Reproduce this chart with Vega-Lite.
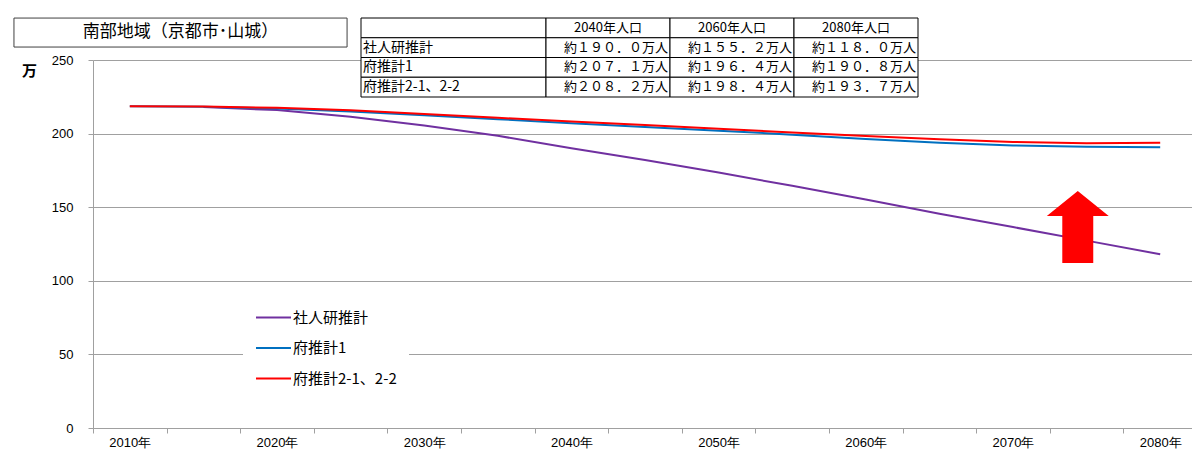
{
  "$schema": "https://vega.github.io/schema/vega-lite/v6.json",
  "width": 1099,
  "height": 368,
  "autosize": {"type": "none"},
  "padding": {"left": 93, "top": 60, "right": 0, "bottom": 22},
  "background": "white",
  "config": {"view": {"stroke": null}, "font": "Noto Sans CJK JP"},
  "datasets": {
    "pop": [
      {"series": "社人研推計", "year": 2015, "value": 218.0},
      {"series": "社人研推計", "year": 2020, "value": 216.0},
      {"series": "社人研推計", "year": 2025, "value": 211.5},
      {"series": "社人研推計", "year": 2030, "value": 205.5},
      {"series": "社人研推計", "year": 2035, "value": 198.5},
      {"series": "社人研推計", "year": 2040, "value": 190.0},
      {"series": "社人研推計", "year": 2045, "value": 182.0},
      {"series": "社人研推計", "year": 2050, "value": 173.5},
      {"series": "社人研推計", "year": 2055, "value": 164.5},
      {"series": "社人研推計", "year": 2060, "value": 155.2},
      {"series": "社人研推計", "year": 2065, "value": 145.5},
      {"series": "社人研推計", "year": 2070, "value": 136.5},
      {"series": "社人研推計", "year": 2075, "value": 127.3},
      {"series": "社人研推計", "year": 2080, "value": 118.0},
      {"series": "府推計1", "year": 2010, "value": 218.5},
      {"series": "府推計1", "year": 2015, "value": 218.3},
      {"series": "府推計1", "year": 2020, "value": 217.0},
      {"series": "府推計1", "year": 2025, "value": 215.0},
      {"series": "府推計1", "year": 2030, "value": 212.5},
      {"series": "府推計1", "year": 2035, "value": 209.8},
      {"series": "府推計1", "year": 2040, "value": 207.1},
      {"series": "府推計1", "year": 2045, "value": 204.5},
      {"series": "府推計1", "year": 2050, "value": 202.0},
      {"series": "府推計1", "year": 2055, "value": 199.3},
      {"series": "府推計1", "year": 2060, "value": 196.4},
      {"series": "府推計1", "year": 2065, "value": 193.8},
      {"series": "府推計1", "year": 2070, "value": 192.0},
      {"series": "府推計1", "year": 2075, "value": 191.0},
      {"series": "府推計1", "year": 2080, "value": 190.8},
      {"series": "府推計2-1、2-2", "year": 2010, "value": 218.5},
      {"series": "府推計2-1、2-2", "year": 2015, "value": 218.4},
      {"series": "府推計2-1、2-2", "year": 2020, "value": 217.5},
      {"series": "府推計2-1、2-2", "year": 2025, "value": 215.8},
      {"series": "府推計2-1、2-2", "year": 2030, "value": 213.3},
      {"series": "府推計2-1、2-2", "year": 2035, "value": 210.7},
      {"series": "府推計2-1、2-2", "year": 2040, "value": 208.2},
      {"series": "府推計2-1、2-2", "year": 2045, "value": 205.8},
      {"series": "府推計2-1、2-2", "year": 2050, "value": 203.3},
      {"series": "府推計2-1、2-2", "year": 2055, "value": 200.8},
      {"series": "府推計2-1、2-2", "year": 2060, "value": 198.4},
      {"series": "府推計2-1、2-2", "year": 2065, "value": 196.2},
      {"series": "府推計2-1、2-2", "year": 2070, "value": 194.3},
      {"series": "府推計2-1、2-2", "year": 2075, "value": 193.4},
      {"series": "府推計2-1、2-2", "year": 2080, "value": 193.7}
    ],
    "table": [
      {"row": "見出し", "col": "項目", "text": ""},
      {"row": "社人研推計", "col": "項目", "text": "社人研推計"},
      {"row": "府推計1", "col": "項目", "text": "府推計1"},
      {"row": "府推計2-1、2-2", "col": "項目", "text": "府推計2-1、2-2"},
      {"row": "見出し", "col": "2040年人口", "text": "2040年人口"},
      {"row": "見出し", "col": "2060年人口", "text": "2060年人口"},
      {"row": "見出し", "col": "2080年人口", "text": "2080年人口"},
      {"row": "社人研推計", "col": "2040年人口", "text": "約１９０．０万人"},
      {"row": "社人研推計", "col": "2060年人口", "text": "約１５５．２万人"},
      {"row": "社人研推計", "col": "2080年人口", "text": "約１１８．０万人"},
      {"row": "府推計1", "col": "2040年人口", "text": "約２０７．１万人"},
      {"row": "府推計1", "col": "2060年人口", "text": "約１９６．４万人"},
      {"row": "府推計1", "col": "2080年人口", "text": "約１９０．８万人"},
      {"row": "府推計2-1、2-2", "col": "2040年人口", "text": "約２０８．２万人"},
      {"row": "府推計2-1、2-2", "col": "2060年人口", "text": "約１９８．４万人"},
      {"row": "府推計2-1、2-2", "col": "2080年人口", "text": "約１９３．７万人"}
    ]
  },
  "layer": [
    {
      "layer": [
        {
          "data": {"name": "pop"},
          "mark": {"type": "line", "strokeWidth": 2},
          "encoding": {
            "x": {
              "field": "year", "type": "quantitative",
              "scale": {"domain": [2007.5, 2082.16], "nice": false, "zero": false},
              "axis": {
                "title": null,
                "values": [2007.5, 2012.5, 2017.5, 2022.5, 2027.5, 2032.5, 2037.5, 2042.5, 2047.5, 2052.5, 2057.5, 2062.5, 2067.5, 2072.5, 2077.5],
                "labelExpr": "(datum.value + 2.5) % 10 === 0 ? (datum.value + 2.5) + '年' : ''",
                "labelOffset": 36.8,
                "labelOverlap": false,
                "labelFlush": false,
                "labelFont": "Liberation Sans",
                "labelFontSize": 13,
                "labelColor": "#000000",
                "labelPadding": 3,
                "tickSize": 5,
                "tickColor": "#a0a0a0",
                "domainColor": "#a0a0a0",
                "grid": false
              }
            },
            "y": {
              "field": "value", "type": "quantitative",
              "scale": {"domain": [0, 250], "nice": false},
              "axis": {
                "title": "万",
                "titleAngle": 0,
                "titleX": -64,
                "titleY": 10,
                "titleAlign": "center",
                "titleBaseline": "middle",
                "titleFont": "Noto Sans CJK JP",
                "titleFontSize": 15,
                "titleFontWeight": "bold",
                "titleColor": "#000000",
                "values": [0, 50, 100, 150, 200, 250],
                "grid": true,
                "gridColor": "#a0a0a0",
                "domainColor": "#a0a0a0",
                "tickColor": "#a0a0a0",
                "tickSize": 5,
                "labelPadding": 15,
                "labelFont": "Liberation Sans",
                "labelFontSize": 13,
                "labelColor": "#000000"
              }
            },
            "color": {
              "field": "series", "type": "nominal",
              "scale": {"domain": ["社人研推計", "府推計1", "府推計2-1、2-2"], "range": ["#7030a0", "#0070c0", "#ff0000"]},
              "legend": {
                "title": null,
                "orient": "none",
                "legendX": 150,
                "legendY": 227,
                "symbolType": "stroke",
                "symbolStrokeWidth": 2,
                "symbolSize": 1225,
                "labelOffset": 1,
                "labelFont": "Noto Sans CJK JP",
                "labelFontSize": 15,
                "labelColor": "#000000",
                "fillColor": "#ffffff",
                "padding": 12,
                "rowPadding": 3.5
              }
            }
          }
        },
        {
          "data": {"values": [{}]},
          "mark": {"type": "point", "shape": "M0,-1L0.86,-0.31L0.43,-0.31L0.43,1L-0.43,1L-0.43,-0.31L-0.86,-0.31Z", "size": 5184, "filled": true, "color": "#ff0000", "opacity": 1},
          "encoding": {"x": {"datum": 2074.4}, "y": {"datum": 136.5}}
        },
        {
          "data": {"values": [{}]},
          "mark": {"type": "rect", "fill": "#ffffff", "stroke": "#404040", "strokeWidth": 1},
          "encoding": {"x": {"datum": 2002.13}, "x2": {"datum": 2024.76}, "y": {"datum": 278.5}, "y2": {"datum": 258.8}}
        },
        {
          "data": {"values": [{"label": "南部地域（京都市･山城）"}]},
          "mark": {"type": "text", "fontSize": 17, "font": "Noto Sans CJK JP", "color": "#000000", "align": "center", "baseline": "middle"},
          "encoding": {"x": {"datum": 2013.45}, "y": {"datum": 268.7}, "text": {"field": "label"}}
        }
      ]
    },
    {
      "data": {"name": "table"},
      "transform": [{"filter": "datum.col === '項目'"}],
      "layer": [
        {
          "mark": {"type": "rect", "fill": "#ffffff", "stroke": "#000000", "strokeWidth": 1},
          "encoding": {
            "x": {"field": "col", "type": "nominal", "scale": {"domain": ["項目"], "range": [268, 453], "paddingInner": 0, "paddingOuter": 0}, "axis": null},
            "y": {"field": "row", "type": "nominal", "scale": {"domain": ["見出し", "社人研推計", "府推計1", "府推計2-1、2-2"], "range": [-42, 37], "paddingInner": 0, "paddingOuter": 0}, "axis": null}
          }
        },
        {
          "mark": {"type": "text", "align": "left", "baseline": "middle", "dx": 2, "fontSize": 14, "font": "Noto Sans CJK JP", "color": "#000000"},
          "encoding": {
            "x": {"field": "col", "type": "nominal", "bandPosition": 0, "scale": {"domain": ["項目"], "range": [268, 453], "paddingInner": 0, "paddingOuter": 0}, "axis": null},
            "y": {"field": "row", "type": "nominal", "scale": {"domain": ["見出し", "社人研推計", "府推計1", "府推計2-1、2-2"], "range": [-42, 37], "paddingInner": 0, "paddingOuter": 0}, "axis": null},
            "text": {"field": "text"}
          }
        }
      ]
    },
    {
      "data": {"name": "table"},
      "transform": [{"filter": "datum.col !== '項目'"}],
      "layer": [
        {
          "mark": {"type": "rect", "fill": "#ffffff", "stroke": "#000000", "strokeWidth": 1},
          "encoding": {
            "x": {"field": "col", "type": "nominal", "scale": {"domain": ["2040年人口", "2060年人口", "2080年人口"], "range": [453, 825], "paddingInner": 0, "paddingOuter": 0}, "axis": null},
            "y": {"field": "row", "type": "nominal", "scale": {"domain": ["見出し", "社人研推計", "府推計1", "府推計2-1、2-2"], "range": [-42, 37], "paddingInner": 0, "paddingOuter": 0}, "axis": null}
          }
        },
        {
          "transform": [{"filter": "datum.row === '見出し'"}],
          "mark": {"type": "text", "align": "center", "baseline": "middle", "fontSize": 13, "font": "Noto Sans CJK JP", "color": "#000000"},
          "encoding": {
            "x": {"field": "col", "type": "nominal", "scale": {"domain": ["2040年人口", "2060年人口", "2080年人口"], "range": [453, 825], "paddingInner": 0, "paddingOuter": 0}, "axis": null},
            "y": {"field": "row", "type": "nominal", "scale": {"domain": ["見出し", "社人研推計", "府推計1", "府推計2-1、2-2"], "range": [-42, 37], "paddingInner": 0, "paddingOuter": 0}, "axis": null},
            "text": {"field": "text"}
          }
        },
        {
          "transform": [{"filter": "datum.row !== '見出し'"}],
          "mark": {"type": "text", "align": "right", "baseline": "middle", "dx": -2, "fontSize": 13, "font": "Noto Sans CJK JP", "color": "#000000"},
          "encoding": {
            "x": {"field": "col", "type": "nominal", "bandPosition": 1, "scale": {"domain": ["2040年人口", "2060年人口", "2080年人口"], "range": [453, 825], "paddingInner": 0, "paddingOuter": 0}, "axis": null},
            "y": {"field": "row", "type": "nominal", "scale": {"domain": ["見出し", "社人研推計", "府推計1", "府推計2-1、2-2"], "range": [-42, 37], "paddingInner": 0, "paddingOuter": 0}, "axis": null},
            "text": {"field": "text"}
          }
        }
      ]
    }
  ],
  "resolve": {"scale": {"x": "independent", "y": "independent"}}
}
